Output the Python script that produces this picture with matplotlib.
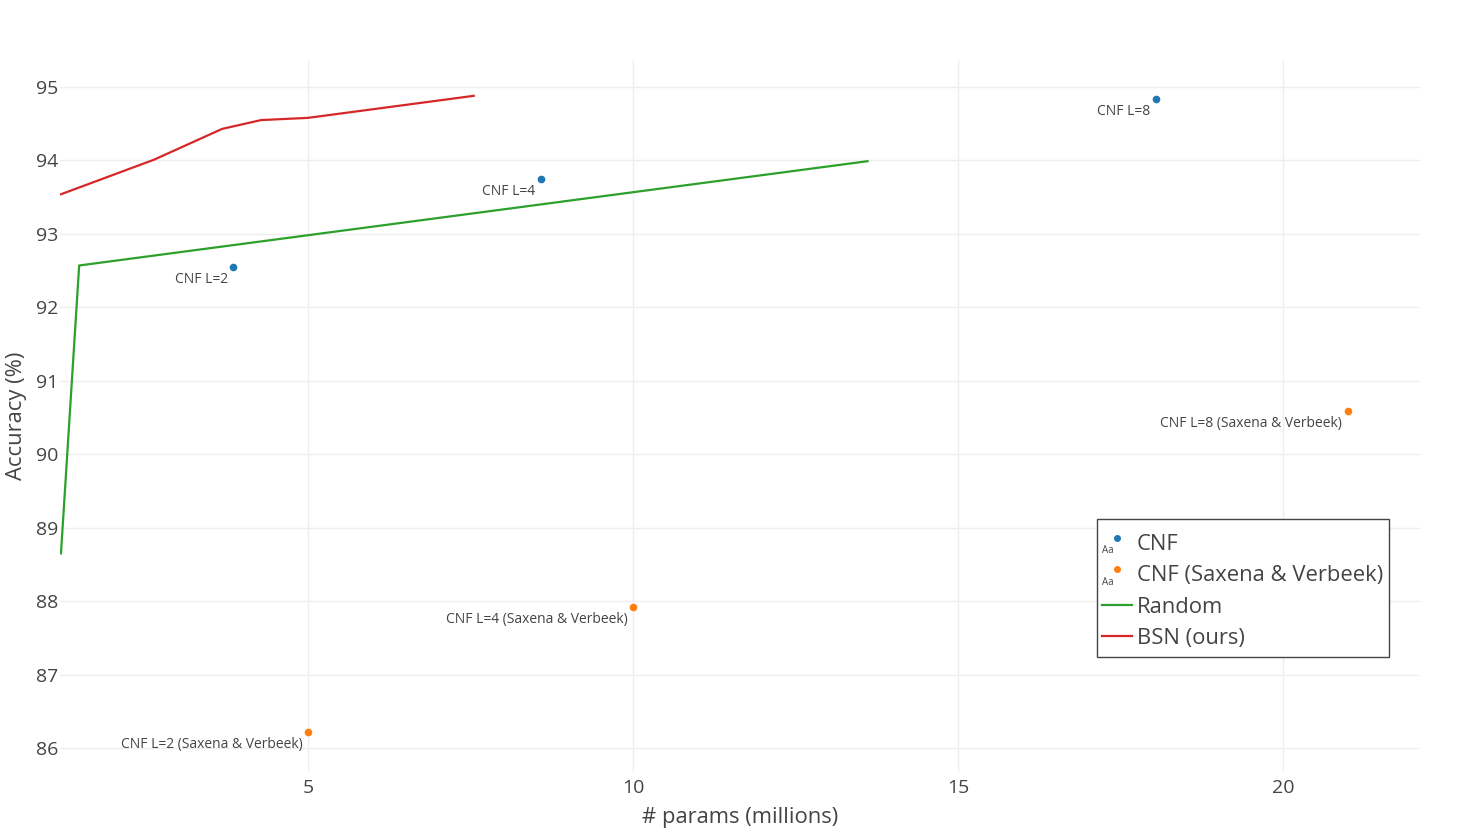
import matplotlib
matplotlib.use("Agg")
import matplotlib.pyplot as plt
from matplotlib.legend_handler import HandlerBase
from matplotlib.lines import Line2D
from matplotlib.patches import Rectangle
from matplotlib.text import Text

# Data Section

cnf_params = [3.85, 8.58, 18.05]
cnf_acc = [92.55, 93.75, 94.84]
cnf_labels = ["CNF L=2", "CNF L=4", "CNF L=8"]

sax_params = [5.0, 10.0, 21.0]
sax_acc = [86.22, 87.92, 90.59]
sax_labels = ["CNF L=2 (Saxena & Verbeek)", "CNF L=4 (Saxena & Verbeek)", "CNF L=8 (Saxena & Verbeek)"]

random_params = [1.2, 1.48, 13.61]
random_acc = [88.65, 92.57, 93.99]

bsn_params = [1.2, 2.63, 3.68, 4.28, 5.0, 7.55]
bsn_acc = [93.54, 94.01, 94.43, 94.55, 94.58, 94.88]

txt = "#444444"
plt.rcParams["font.family"] = ["Open Sans", "DejaVu Sans"]


# Legend handler that looks like plotly's "Aa" + marker entry
class TextMarkerHandler(HandlerBase):
    def create_artists(self, legend, orig_handle, xdescent, ydescent, width, height, fontsize, trans):
        t = Text(xdescent, ydescent - height * 0.05, "Aa", fontsize=7, color=txt,
                 ha="left", va="center", transform=trans)
        m = Line2D([xdescent + width * 0.52], [ydescent + height * 0.8], marker="o", linestyle="none",
                   markersize=4, color=orig_handle.get_color(), transform=trans)
        return [t, m]


fig = plt.figure(figsize=(14.8, 8.31), dpi=100)
ax = fig.add_axes([60 / 1480, 1 - 772 / 831, 1360 / 1480, 712 / 831])

ax.plot(random_params, random_acc, color="#2ca02c", lw=1.6, label="Random", zorder=3)
ax.plot(bsn_params, bsn_acc, color="#d62728", lw=1.6, label="BSN (ours)", zorder=3)
h_cnf, = ax.plot(cnf_params, cnf_acc, "o", color="#1f77b4", ms=4.5, label="CNF", zorder=4)
h_sax, = ax.plot(sax_params, sax_acc, "o", color="#ff7f0e", ms=4.5, label="CNF (Saxena & Verbeek)", zorder=4)

for x, y, s in zip(cnf_params, cnf_acc, cnf_labels):
    ax.annotate(s, (x, y), xytext=(-4, -3.5), textcoords="offset points", ha="right", va="top",
                fontsize=10, color=txt)
for x, y, s in zip(sax_params, sax_acc, sax_labels):
    ax.annotate(s, (x, y), xytext=(-4, -3.5), textcoords="offset points", ha="right", va="top",
                fontsize=10, color=txt)

ax.set_xlim(1.185, 22.11)
ax.set_ylim(85.673, 95.368)
ax.set_xticks([5, 10, 15, 20])
ax.set_yticks(range(86, 96))
ax.grid(True, color="#eeeeee", lw=1)
ax.set_axisbelow(True)
for sp in ax.spines.values():
    sp.set_visible(False)
ax.tick_params(length=0, labelsize=14, colors=txt)
ax.tick_params(axis="x", pad=5)
ax.tick_params(axis="y", pad=1.5)
ax.set_xlabel("# params (millions)", fontsize=15.8, color=txt, va="center")
ax.set_ylabel("Accuracy (%)", fontsize=15.8, color=txt, va="center")
ax.xaxis.set_label_coords(0.5, (772 - 817) / 712)
ax.yaxis.set_label_coords((17 - 60) / 1360, 0.5)

# legend without its own frame, box drawn separately
handles = [h_cnf, h_sax, ax.lines[0], ax.lines[1]]
labels = ["CNF", "CNF (Saxena & Verbeek)", "Random", "BSN (ours)"]
leg = fig.legend(handles, labels, loc="upper left", bbox_to_anchor=(1102 / 1480, 1 - 534 / 831),
                 fontsize=15.8, frameon=False, labelcolor=txt,
                 handler_map={h_cnf: TextMarkerHandler(), h_sax: TextMarkerHandler()},
                 handlelength=1.35, handletextpad=0.25, borderpad=0, labelspacing=0.47,
                 borderaxespad=0)
fig.patches.append(Rectangle((1097 / 1480, 1 - 657 / 831), 292 / 1480, 138 / 831,
                             transform=fig.transFigure, fill=True, facecolor="white",
                             edgecolor=txt, lw=1, zorder=2))
leg.set_zorder(3)

fig.savefig("out.png", dpi=100)
